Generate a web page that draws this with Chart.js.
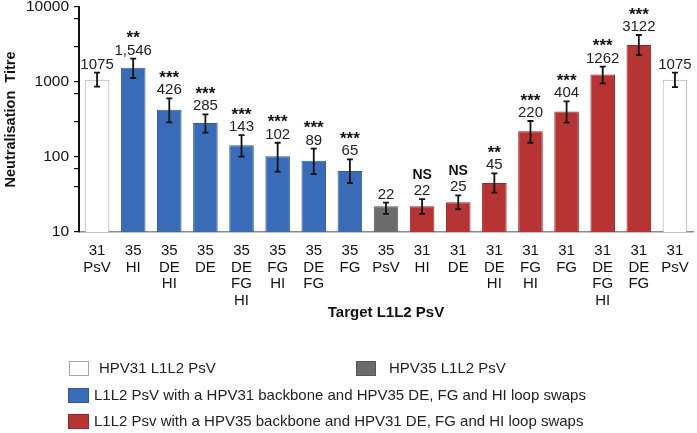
<!DOCTYPE html>
<html>
<head>
<meta charset="utf-8">
<script src="https://cdn.jsdelivr.net/npm/chart.js@4.4.1/dist/chart.umd.min.js"></script>
<style>
  html, body { margin: 0; padding: 0; background: #fff; }
  #wrap { width: 697px; height: 433px; position: relative; }
</style>
</head>
<body>
<div id="wrap"><canvas id="grafico"></canvas></div>
<script>
// categorias (lineas de cada etiqueta)
const categorias = [
  ['31', 'PsV'], ['35', 'HI'], ['35', 'DE', 'HI'], ['35', 'DE'], ['35', 'DE', 'FG', 'HI'],
  ['35', 'FG', 'HI'], ['35', 'DE', 'FG'], ['35', 'FG'], ['35', 'PsV'], ['31', 'HI'],
  ['31', 'DE'], ['31', 'DE', 'HI'], ['31', 'FG', 'HI'], ['31', 'FG'], ['31', 'DE', 'FG', 'HI'],
  ['31', 'DE', 'FG'], ['31', 'PsV']
];
const titulos = [1075, 1546, 426, 285, 143, 102, 89, 65, 22, 22, 25, 45, 220, 404, 1262, 3122, 1075];
const etiquetasValor = ['1075', '1,546', '426', '285', '143', '102', '89', '65', '22', '22', '25', '45', '220', '404', '1262', '3122', '1075'];
const errorAlto = [1330, 2046, 606, 371, 196, 155, 129, 93, 24.6, 27.5, 30.8, 60.6, 302, 553, 1600, 4236, 1330];
const errorBajo = [866, 1131, 290, 211, 101, 64, 59, 45, 17.4, 17.4, 20.1, 33.4, 155, 287, 960, 2291, 853];
const significancia = ['', '**', '***', '***', '***', '***', '***', '***', '', 'NS', 'NS', '**', '***', '***', '***', '***', ''];
// grupo de cada barra: 0 HPV31, 1 HPV35, 2 backbone 31, 3 backbone 35
const grupos = [0, 2, 2, 2, 2, 2, 2, 2, 1, 3, 3, 3, 3, 3, 3, 3, 0];
const ticksY = [10, 100, 1000, 10000];

const coloresGrupo = ['#ffffff', '#6b6b6b', '#3a6bb6', '#b73434'];
const bordesGrupo = ['#a6a6a6', '#555555', '#2f5b9c', '#8e2a2a'];
const leyenda = [
  'HPV31 L1L2 PsV',
  'HPV35 L1L2 PsV',
  'L1L2 PsV with a HPV31 backbone and HPV35 DE, FG and HI loop swaps',
  'L1L2 Psv with a HPV35 backbone and HPV31 DE, FG and HI loop swaps'
];

const FUENTE = '"Liberation Sans", Arial, Helvetica, sans-serif';

// barras de error + etiquetas + leyenda
const extras = {
  id: 'extras',
  afterDatasetsDraw(chart) {
    const ctx = chart.ctx;
    const xs = chart.scales.x, ys = chart.scales.y;
    ctx.save();
    titulos.forEach((v, i) => {
      const x = xs.getPixelForValue(i);
      const yA = ys.getPixelForValue(errorAlto[i]);
      const yB = ys.getPixelForValue(errorBajo[i]);
      ctx.strokeStyle = '#111';
      ctx.lineWidth = 1.8;
      ctx.beginPath();
      ctx.moveTo(x, yA); ctx.lineTo(x, yB);
      ctx.moveTo(x - 3, yA); ctx.lineTo(x + 3, yA);
      ctx.moveTo(x - 3, yB); ctx.lineTo(x + 3, yB);
      ctx.stroke();

      const base = yA - 4;
      ctx.fillStyle = '#222';
      ctx.textAlign = 'center';
      ctx.textBaseline = 'alphabetic';
      ctx.font = '15px ' + FUENTE;
      ctx.fillText(etiquetasValor[i], x, base);
      const s = significancia[i];
      if (s === 'NS') {
        ctx.font = 'bold 14px ' + FUENTE;
        ctx.fillStyle = '#111';
        ctx.fillText(s, x, base - 16.2);
      } else if (s) {
        ctx.font = 'bold 17px ' + FUENTE;
        ctx.fillStyle = '#111';
        ctx.fillText(s, x, base - 11.4);
      }
    });
    ctx.restore();
  },
  afterDraw(chart) {
    const ctx = chart.ctx;
    ctx.save();
    const cajas = [
      [69, 361, 20, 15, 99, 368.5],
      [356, 361, 20, 15, 389, 368.5],
      [68, 388, 21, 15, 94, 396],
      [68, 414, 21, 15, 94, 422]
    ];
    ctx.font = '15px ' + FUENTE;
    ctx.textBaseline = 'middle';
    ctx.textAlign = 'left';
    cajas.forEach((c, k) => {
      ctx.fillStyle = coloresGrupo[k];
      ctx.fillRect(c[0], c[1], c[2], c[3]);
      ctx.strokeStyle = bordesGrupo[k];
      ctx.lineWidth = 1;
      ctx.strokeRect(c[0] + 0.5, c[1] + 0.5, c[2] - 1, c[3] - 1);
      ctx.fillStyle = '#222';
      ctx.fillText(leyenda[k], c[4], c[5]);
    });
    ctx.restore();
  }
};

const ctx = document.getElementById('grafico').getContext('2d');
new Chart(ctx, {
  type: 'bar',
  data: {
    labels: categorias,
    datasets: [{
      label: 'Neutralisation Titre',
      data: titulos,
      backgroundColor: grupos.map(g => coloresGrupo[g]),
      borderColor: grupos.map(g => bordesGrupo[g]),
      borderWidth: 1,
      barPercentage: 0.68,
      categoryPercentage: 1
    }]
  },
  options: {
    responsive: true,
    maintainAspectRatio: false,
    animation: false,
    layout: { padding: { top: 7, right: 4, left: 0, bottom: 110 } },
    plugins: {
      legend: { display: false },
      tooltip: { enabled: false },
      title: { display: false }
    },
    scales: {
      x: {
        grid: { display: false },
        border: { display: true, color: '#8a8a8a', width: 1.5 },
        ticks: {
          autoSkip: false, maxRotation: 0, padding: 3,
          color: '#111',
          font: { family: FUENTE, size: 15, lineHeight: 1.1 }
        },
        title: {
          display: true, text: 'Target L1L2 PsV', color: '#111',
          font: { family: FUENTE, size: 15, weight: 'bold', lineHeight: 1.2 },
          padding: { top: 0, bottom: 1 }
        },
        afterFit(scale) { scale.height = 91; }
      },
      y: {
        type: 'logarithmic',
        min: 10,
        max: 10000,
        grid: { drawOnChartArea: false, tickLength: 5, color: '#111', lineWidth: 1.2 },
        border: { color: '#111', width: 2 },
        ticks: {
          color: '#111', padding: 5,
          font: { family: FUENTE, size: 15.5 },
          callback: v => ticksY.includes(v) ? String(v) : ''
        },
        title: {
          display: true, text: 'Neutralisation  Titre', color: '#111',
          font: { family: FUENTE, size: 14.5, weight: 'bold', lineHeight: 1.2 },
          padding: { top: 2, bottom: 0 }
        },
        afterFit(scale) {
          scale.width = 79;
          scale.paddingTop = 0;
          scale.paddingBottom = 0;
        }
      }
    }
  },
  plugins: [extras]
});
</script>
</body>
</html>
